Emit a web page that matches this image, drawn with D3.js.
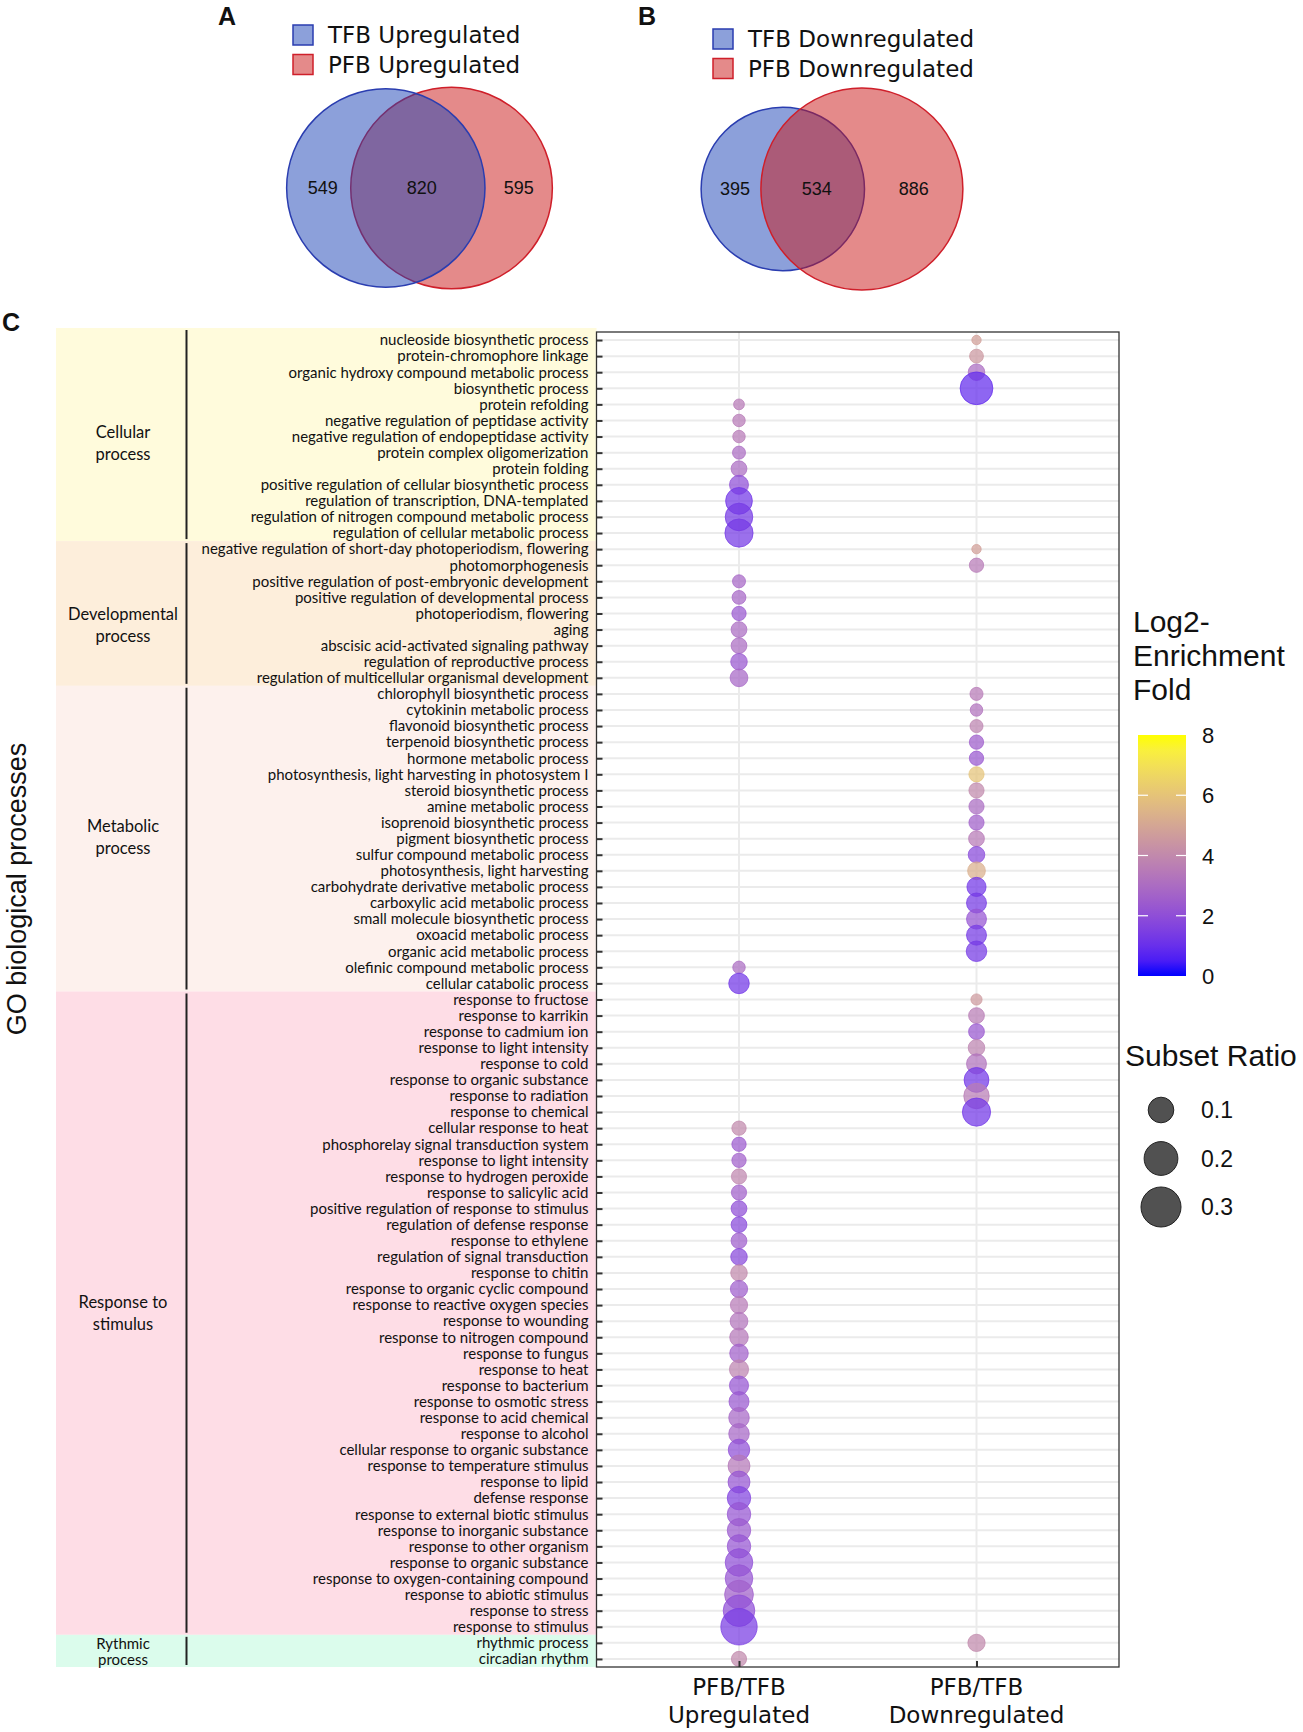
<!DOCTYPE html>
<html>
<head>
<meta charset="utf-8">
<script src="https://cdn.jsdelivr.net/npm/d3@7"></script>
<style>
  body { margin: 0; background: #fff; }
  text { fill: #111; }
</style>
</head>
<body>
<svg id="fig" width="1303" height="1732"></svg>
<script>
// ---- Venn diagrams (A, B) ----
const vennUpLabels = ["TFB Upregulated", "PFB Upregulated"];
const vennUpCounts = [549, 820, 595];      // TFB only, both, PFB only
const vennDownLabels = ["TFB Downregulated", "PFB Downregulated"];
const vennDownCounts = [395, 534, 886];

// ---- GO dot plot (C) ----
const conditions = ["PFB/TFB Upregulated", "PFB/TFB Downregulated"];
const groupNames = [["Cellular", "process"], ["Developmental", "process"], ["Metabolic", "process"],
                    ["Response to", "stimulus"], ["Rythmic", "process"]];
const groupSizes = [13, 9, 19, 40, 2];
const groupColors = ["#fffbdc", "#fdeedb", "#fdf1ed", "#fedde6", "#dbfcec"];

const terms = [
  // cellular
  "nucleoside biosynthetic process", "protein-chromophore linkage", "organic hydroxy compound metabolic process",
  "biosynthetic process", "protein refolding", "negative regulation of peptidase activity",
  "negative regulation of endopeptidase activity", "protein complex oligomerization", "protein folding",
  "positive regulation of cellular biosynthetic process", "regulation of transcription, DNA-templated",
  "regulation of nitrogen compound metabolic process", "regulation of cellular metabolic process",
  // developmental
  "negative regulation of short-day photoperiodism, flowering", "photomorphogenesis",
  "positive regulation of post-embryonic development", "positive regulation of developmental process",
  "photoperiodism, flowering", "aging", "abscisic acid-activated signaling pathway",
  "regulation of reproductive process", "regulation of multicellular organismal development",
  // metabolic
  "chlorophyll biosynthetic process", "cytokinin metabolic process", "flavonoid biosynthetic process",
  "terpenoid biosynthetic process", "hormone metabolic process", "photosynthesis, light harvesting in photosystem I",
  "steroid biosynthetic process", "amine metabolic process", "isoprenoid biosynthetic process",
  "pigment biosynthetic process", "sulfur compound metabolic process", "photosynthesis, light harvesting",
  "carbohydrate derivative metabolic process", "carboxylic acid metabolic process",
  "small molecule biosynthetic process", "oxoacid metabolic process", "organic acid metabolic process",
  "olefinic compound metabolic process", "cellular catabolic process",
  // response to stimulus
  "response to fructose", "response to karrikin", "response to cadmium ion", "response to light intensity",
  "response to cold", "response to organic substance", "response to radiation", "response to chemical",
  "cellular response to heat", "phosphorelay signal transduction system", "response to light intensity",
  "response to hydrogen peroxide", "response to salicylic acid", "positive regulation of response to stimulus",
  "regulation of defense response", "response to ethylene", "regulation of signal transduction",
  "response to chitin", "response to organic cyclic compound", "response to reactive oxygen species",
  "response to wounding", "response to nitrogen compound", "response to fungus", "response to heat",
  "response to bacterium", "response to osmotic stress", "response to acid chemical", "response to alcohol",
  "cellular response to organic substance", "response to temperature stimulus", "response to lipid",
  "defense response", "response to external biotic stimulus", "response to inorganic substance",
  "response to other organism", "response to organic substance", "response to oxygen-containing compound",
  "response to abiotic stimulus", "response to stress", "response to stimulus",
  // rhythmic
  "rhythmic process", "circadian rhythm"
];

// log2 enrichment fold and subset ratio, null = term not enriched
const upFold = [
  null, null, null, null, 3.5, 3.5, 3.5, 3.0, 3.0, 2.0, 1.2, 1.3, 1.3,
  null, null, 2.8, 2.8, 2.3, 3.0, 3.0, 2.3, 2.8,
  null, null, null, null, null, null, null, null, null, null, null, null, null, null, null, null, null, 3.0, 1.2,
  null, null, null, null, null, null, null, null, 4.0, 2.4, 2.6, 3.9, 2.6, 2.0, 1.8, 2.5, 1.8, 4.0,
  2.5, 3.5, 3.3, 3.4, 2.6, 3.8, 2.2, 2.3, 2.8, 2.8, 2.0, 3.4, 2.2, 1.6, 2.2, 2.4, 2.2, 2.0, 2.2, 2.6, 2.0, 1.4,
  null, 4.0
];
const upRatio = [
  null, null, null, null, 0.006, 0.011, 0.011, 0.013, 0.025, 0.044, 0.112, 0.121, 0.128,
  null, null, 0.013, 0.016, 0.018, 0.025, 0.025, 0.029, 0.036,
  null, null, null, null, null, null, null, null, null, null, null, null, null, null, null, null, null, 0.011, 0.055,
  null, null, null, null, null, null, null, null, 0.018, 0.018, 0.018, 0.022, 0.022, 0.025, 0.025, 0.025, 0.029, 0.029,
  0.033, 0.033, 0.036, 0.041, 0.041, 0.045, 0.045, 0.051, 0.055, 0.055, 0.062, 0.066, 0.066, 0.079, 0.079, 0.079,
  0.079, 0.121, 0.121, 0.135, 0.170, 0.240,
  null, 0.022
];
const downFold = [
  4.8, 4.5, 3.0, 0.9, null, null, null, null, null, null, null, null, null,
  4.8, 3.5, null, null, null, null, null, null, null,
  3.5, 3.2, 3.8, 2.5, 2.3, 6.0, 4.0, 3.0, 2.6, 3.5, 1.8, 5.3, 1.2, 1.3, 2.2, 1.3, 1.3, null, null,
  4.6, 3.6, 2.3, 3.8, 3.2, 1.2, 3.6, 1.2, null, null, null, null, null, null, null, null, null, null,
  null, null, null, null, null, null, null, null, null, null, null, null, null, null, null, null, null, null, null, null, null, null,
  4.0, null
];
const downRatio = [
  0.003, 0.016, 0.029, 0.186, null, null, null, null, null, null, null, null, null,
  0.003, 0.018, null, null, null, null, null, null, null,
  0.013, 0.011, 0.013, 0.018, 0.018, 0.022, 0.022, 0.022, 0.022, 0.025, 0.029, 0.036, 0.045, 0.051, 0.051, 0.051, 0.055, null, null,
  0.007, 0.025, 0.025, 0.029, 0.051, 0.092, 0.098, 0.128, null, null, null, null, null, null, null, null, null, null,
  null, null, null, null, null, null, null, null, null, null, null, null, null, null, null, null, null, null, null, null, null, null,
  0.033, null
];

const foldTicks = [0, 2, 4, 6, 8];
const ratioTicks = [0.1, 0.2, 0.3];

const svg = d3.select("#fig");
const sans = "'Liberation Sans', Arial, sans-serif";
const dejavu = "'DejaVu Sans', sans-serif";
const narrow = "Lato, 'Open Sans', sans-serif";

// panel letters
svg.append("text").attr("x", 227).attr("y", 25).attr("text-anchor", "middle")
  .attr("font-family", sans).attr("font-weight", "bold").attr("font-size", 25).text("A");
svg.append("text").attr("x", 647).attr("y", 25).attr("text-anchor", "middle")
  .attr("font-family", sans).attr("font-weight", "bold").attr("font-size", 25).text("B");
svg.append("text").attr("x", 11).attr("y", 331).attr("text-anchor", "middle")
  .attr("font-family", sans).attr("font-weight", "bold").attr("font-size", 25).text("C");

// ---------- Venn ----------
const vennR = d3.scaleSqrt().domain([0, 1420]).range([0, 101]);
const vennBlue = { fill: "rgb(25,65,181)", stroke: "#2a3db0" };
const vennRed = { fill: "rgb(201,21,21)", stroke: "#cf1f2a" };

function lensArea(r1, r2, d) {
  if (d >= r1 + r2) return 0;
  if (d <= Math.abs(r1 - r2)) return Math.PI * Math.min(r1, r2) ** 2;
  const a1 = r1 * r1 * Math.acos((d * d + r1 * r1 - r2 * r2) / (2 * d * r1));
  const a2 = r2 * r2 * Math.acos((d * d + r2 * r2 - r1 * r1) / (2 * d * r2));
  const a3 = 0.5 * Math.sqrt((-d + r1 + r2) * (d + r1 - r2) * (d - r1 + r2) * (d + r1 + r2));
  return a1 + a2 - a3;
}

function drawVenn(cx, cy, counts, labels, redOnTop, legX, legY) {
  const r1 = vennR(counts[0] + counts[1]);
  const r2 = vennR(counts[1] + counts[2]);
  // distance so that lens area is proportional to the shared count
  const target = Math.PI * vennR(counts[1]) ** 2;
  let lo = Math.abs(r1 - r2), hi = r1 + r2;
  for (let i = 0; i < 60; i++) {
    const mid = (lo + hi) / 2;
    if (lensArea(r1, r2, mid) > target) lo = mid; else hi = mid;
  }
  const d = (lo + hi) / 2;
  const left = cx - (r1 + d + r2) / 2;
  const c1 = left + r1, c2 = c1 + d;

  const g = svg.append("g");
  const circles = [
    { x: c1, r: r1, col: vennBlue },
    { x: c2, r: r2, col: vennRed }
  ];
  const order = redOnTop ? circles : [circles[1], circles[0]];
  g.selectAll("circle").data(order).join("circle")
    .attr("cx", c => c.x).attr("cy", cy).attr("r", c => c.r)
    .attr("fill", c => c.col.fill).attr("fill-opacity", 0.5)
    .attr("stroke", c => c.col.stroke).attr("stroke-width", 1.5);

  const xs = [((c1 - r1) + (c2 - r2)) / 2, ((c2 - r2) + (c1 + r1)) / 2, ((c1 + r1) + (c2 + r2)) / 2];
  g.selectAll("text.num").data(counts).join("text").attr("class", "num")
    .attr("x", (v, i) => xs[i] + (i < 2 ? 4 : 0)).attr("y", cy + 6).attr("text-anchor", "middle")
    .attr("font-family", sans).attr("font-size", 18).text(v => v);

  // legend
  const leg = g.append("g").attr("transform", `translate(${legX},${legY})`);
  [vennBlue, vennRed].forEach((c, i) => {
    leg.append("rect").attr("x", 0).attr("y", i * 29.5).attr("width", 20).attr("height", 20)
      .attr("fill", c.fill).attr("fill-opacity", 0.5).attr("stroke", c.stroke).attr("stroke-width", 1.5);
    leg.append("text").attr("x", 35).attr("y", i * 29.5 + 18)
      .attr("font-family", dejavu).attr("font-size", 23).text(labels[i]);
  });
}

drawVenn(419.5, 188, vennUpCounts, vennUpLabels, false, 293, 25);
drawVenn(832, 189, vennDownCounts, vennDownLabels, true, 713, 29);

// ---------- GO dot plot ----------
const plot = { left: 596.5, right: 1119, top: 332, bottom: 1667 };
const idx = d3.range(terms.length);
const y = d3.scalePoint().domain(idx).range([plot.top, plot.bottom]).padding(0.5);
const x = d3.scalePoint().domain(conditions).range([plot.left, plot.right]).padding(0.6);
const step = y.step();
const color = d3.scaleLinear().domain([0, 8]).range(["blue", "yellow"]).interpolate(d3.interpolateLab);
const size = d3.scaleSqrt().domain([0, 0.3]).range([3, 20]);

// category bands
const labelNudge = [3, 7, -7, -5, 1];
let start = 0;
const groups = groupSizes.map((n, i) => {
  const g = { name: groupNames[i], color: groupColors[i], first: start, last: start + n - 1 };
  start += n;
  return g;
});
const bands = svg.append("g");
groups.forEach((g, i) => {
  const top = i === 0 ? y(g.first) - step / 2 - 4 : y(g.first) - step / 2;
  const bot = y(g.last) + step / 2;
  bands.append("rect").attr("x", 56).attr("y", top).attr("width", plot.left - 56).attr("height", bot - top)
    .attr("fill", g.color);
  bands.append("line").attr("x1", 186.5).attr("x2", 186.5).attr("y1", top + 2).attr("y2", bot - 2)
    .attr("stroke", "#222").attr("stroke-width", 2);
  const mid = (top + bot) / 2 + labelNudge[i];
  const tight = g.last - g.first < 3;
  const lh = tight ? 16 : 22;
  bands.append("text").attr("x", 123).attr("text-anchor", "middle")
    .attr("font-family", narrow).attr("font-size", tight ? 15 : 16.5)
    .selectAll("tspan").data(g.name).join("tspan")
    .attr("x", 123).attr("y", (t, j) => mid + (j - 0.5) * lh + 5 + (tight ? 0 : 6))
    .text(t => t);
});

// panel background + grid
svg.append("rect").attr("x", plot.left).attr("y", plot.top)
  .attr("width", plot.right - plot.left).attr("height", plot.bottom - plot.top).attr("fill", "#fff");
svg.append("g").selectAll("line").data(idx).join("line")
  .attr("x1", plot.left).attr("x2", plot.right).attr("y1", i => y(i)).attr("y2", i => y(i))
  .attr("stroke", "#ebebeb").attr("stroke-width", 2);
svg.append("g").selectAll("line").data(conditions).join("line")
  .attr("x1", c => x(c)).attr("x2", c => x(c)).attr("y1", plot.top).attr("y2", plot.bottom)
  .attr("stroke", "#ebebeb").attr("stroke-width", 2);

// bubbles
const dots = [];
idx.forEach(i => {
  if (upRatio[i] != null) dots.push({ c: conditions[0], i, fold: upFold[i], ratio: upRatio[i] });
});
idx.forEach(i => {
  if (downRatio[i] != null) dots.push({ c: conditions[1], i, fold: downFold[i], ratio: downRatio[i] });
});
svg.append("g").selectAll("circle").data(dots).join("circle")
  .attr("cx", d => x(d.c)).attr("cy", d => y(d.i)).attr("r", d => size(d.ratio))
  .attr("fill", d => color(d.fold)).attr("fill-opacity", 0.72)
  .attr("stroke", d => color(d.fold)).attr("stroke-opacity", 0.72).attr("stroke-width", 1);

// axes
const yAxis = svg.append("g").attr("transform", `translate(${plot.left},0)`)
  .call(d3.axisLeft(y).tickSize(-6).tickPadding(8).tickFormat(i => terms[i]));
yAxis.select(".domain").remove();
yAxis.selectAll(".tick line").attr("stroke", "#333").attr("stroke-width", 2);
yAxis.selectAll(".tick text").attr("font-family", narrow).attr("font-size", 15).attr("fill", "#1a1a1a");

const xAxis = svg.append("g").attr("transform", `translate(0,${plot.bottom})`)
  .call(d3.axisBottom(x).tickSize(-6).tickFormat(""));
xAxis.select(".domain").remove();
xAxis.selectAll(".tick line").attr("stroke", "#333").attr("stroke-width", 2);
const xl = svg.append("g");
conditions.forEach(c => {
  const parts = c.split(" ");
  xl.append("text").attr("text-anchor", "middle").attr("font-family", dejavu).attr("font-size", 23)
    .selectAll("tspan").data(parts).join("tspan")
    .attr("x", x(c)).attr("y", (t, j) => 1695 + j * 28).text(t => t);
});

svg.append("rect").attr("x", plot.left).attr("y", plot.top)
  .attr("width", plot.right - plot.left).attr("height", plot.bottom - plot.top)
  .attr("fill", "none").attr("stroke", "#333").attr("stroke-width", 1.3);

svg.append("text").attr("transform", "translate(26,889) rotate(-90)").attr("text-anchor", "middle")
  .attr("font-family", sans).attr("font-size", 27).text("GO biological processes");

// ---------- legends ----------
const lg = svg.append("g");
lg.append("text").attr("font-family", sans).attr("font-size", 30)
  .selectAll("tspan").data(["Log2-", "Enrichment", "Fold"]).join("tspan")
  .attr("x", 1133).attr("y", (t, j) => 632 + j * 34).text(t => t);

const bar = { x: 1138, y: 735, w: 48, h: 241 };
const cb = d3.scaleLinear().domain([0, 8]).range([bar.y + bar.h, bar.y]);
const grad = svg.append("defs").append("linearGradient").attr("id", "foldGrad")
  .attr("x1", 0).attr("y1", 1).attr("x2", 0).attr("y2", 0);
grad.selectAll("stop").data(d3.range(0, 8.01, 0.5)).join("stop")
  .attr("offset", v => v / 8).attr("stop-color", v => color(v));
lg.append("rect").attr("x", bar.x).attr("y", bar.y).attr("width", bar.w).attr("height", bar.h)
  .attr("fill", "url(#foldGrad)");
lg.selectAll("line.tk").data(foldTicks.slice(1, -1)).join("line").attr("class", "tk")
  .attr("x1", bar.x).attr("x2", bar.x + 10).attr("y1", v => cb(v)).attr("y2", v => cb(v))
  .attr("stroke", "#fff").attr("stroke-width", 1.2);
lg.selectAll("line.tk2").data(foldTicks.slice(1, -1)).join("line").attr("class", "tk2")
  .attr("x1", bar.x + bar.w - 10).attr("x2", bar.x + bar.w).attr("y1", v => cb(v)).attr("y2", v => cb(v))
  .attr("stroke", "#fff").attr("stroke-width", 1.2);
lg.selectAll("text.fl").data(foldTicks).join("text").attr("class", "fl")
  .attr("x", 1202).attr("y", v => cb(v) + 8).attr("font-family", sans).attr("font-size", 22).text(v => v);

lg.append("text").attr("x", 1125).attr("y", 1066).attr("font-family", sans).attr("font-size", 30).text("Subset Ratio");
lg.selectAll("circle").data(ratioTicks).join("circle")
  .attr("cx", 1161).attr("cy", (v, i) => 1110 + i * 48.5).attr("r", v => size(v))
  .attr("fill", "#333").attr("fill-opacity", 0.85).attr("stroke", "#222").attr("stroke-width", 1);
lg.selectAll("text.sr").data(ratioTicks).join("text").attr("class", "sr")
  .attr("x", 1201).attr("y", (v, i) => 1110 + i * 48.5 + 8).attr("font-family", sans).attr("font-size", 23)
  .text(v => v.toFixed(1));
</script>
</body>
</html>
